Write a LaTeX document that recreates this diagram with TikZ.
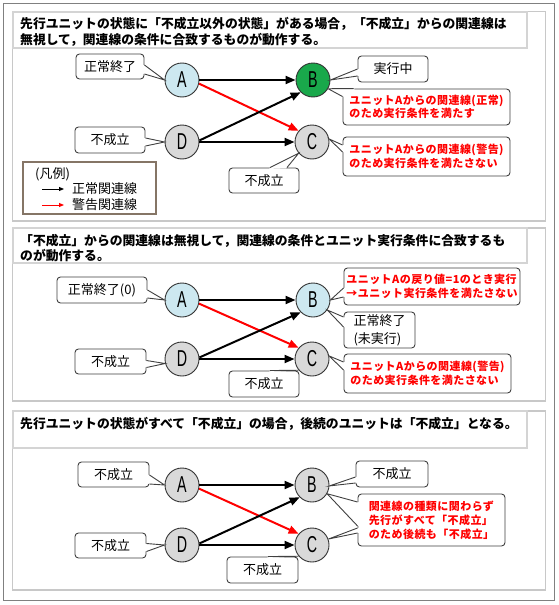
\documentclass[tikz,border=0pt]{standalone}
\usepackage{graphicx}
\usepackage{fontspec}
\setmainfont{Noto Sans CJK JP}
\newfontfamily\labfont{Liberation Sans}
\usetikzlibrary{arrows.meta,calc}
\definecolor{nodeblue}{HTML}{CDE8F0}
\definecolor{nodegray}{HTML}{D9D9D9}
\definecolor{nodegreen}{HTML}{19A84B}
\definecolor{panelgray}{HTML}{C8C8C8}
\definecolor{titlegray}{HTML}{D4D4D4}
\definecolor{framegray}{HTML}{808080}
\definecolor{legendbrown}{HTML}{857566}
\definecolor{alertred}{HTML}{FF0000}
\newcommand\ulab[1]{\scalebox{0.62}[1]{#1}}
\newcommand\callptr[4]{%
  \coordinate (cpa) at (#2);
  \coordinate (cpt) at (#3);
  \coordinate (cpb) at (#4);
  \fill[white] (cpa) -- (cpt) -- (cpb) -- ($(cpb)!1.5pt!(#1.center)$) -- ($(cpa)!1.5pt!(#1.center)$) -- cycle;
  \draw[callline] (cpa) -- (cpt) -- (cpb);
}
\tikzset{
  unit/.style={circle, draw=black!80, line width=0.9pt, minimum size=34pt, inner sep=0pt,
    font=\labfont\fontsize{23}{23}\selectfont},
  arr/.style={line width=2pt, -{Triangle[length=10pt,width=8pt]}},
  redarr/.style={arr, draw=alertred},
  legarr/.style={line width=1pt, -{Triangle[length=5pt,width=4pt]}},
  callbox/.style={draw=black!75, line width=0.9pt, fill=white, rounded corners=3.5pt,
    inner sep=0pt, font=\fontsize{13}{18}\selectfont},
  callline/.style={draw=black!75, line width=0.9pt},
  redtext/.style={text=alertred, align=left, font=\bfseries\fontsize{11}{13.5}\selectfont\addfontfeature{LetterSpace=4}},
  panel/.style={draw=panelgray, line width=1.5pt, fill=white},
  titlebox/.style={draw=titlegray, line width=2pt, fill=white},
  titletext/.style={anchor=west, inner sep=0pt, font=\bfseries\fontsize{12.8}{15}\selectfont},
  legtext/.style={anchor=west, inner sep=0pt, font=\fontsize{13}{15}\selectfont},
}
\begin{document}
\begin{tikzpicture}[x=1pt,y=-1pt]
\useasboundingbox (0,0) rectangle (559,605);
\fill[white] (0,0) rectangle (559,605);
\draw[framegray, line width=1pt] (3,3) rectangle (554,600);

% ================= Panel 1 =================
\draw[panel] (12.5,11.5) rectangle (545.5,221);
\draw[titlebox] (12.5,11.5) rectangle (527,48);
\node[titletext] (t1a) at (20,24) {先行ユニットの状態に「不成立以外の状態」がある場合，「不成立」からの関連線は};
\node[titletext] (t1b) at (20,40) {無視して，関連線の条件に合致するものが動作する。};

\node[unit, fill=nodeblue] (A1) at (182,80) {\ulab{A}};
\node[unit, fill=nodegreen] (B1) at (313,80) {\ulab{B}};
\node[unit, fill=nodegray] (D1) at (182,142) {\ulab{D}};
\node[unit, fill=nodegray] (C1) at (312,142) {\ulab{C}};

\node[callbox, minimum width=68pt, minimum height=25pt] (cA1) at (110,66.5) {正常終了};
\callptr{cA1}{$(cA1.east)+(0,-1.5)$}{A1.west}{$(cA1.east)+(0,7.5)$}
\node[callbox, minimum width=70pt, minimum height=26pt] (cB1) at (393,69) {実行中};
\callptr{cB1}{$(cB1.west)+(0,0)$}{B1.east}{$(cB1.west)+(0,7)$}
\node[callbox, redtext, minimum width=167pt, minimum height=36pt] (cR11) at (426.5,107) {ユニットAからの関連線(正常)\\のため実行条件を満たす};
\callptr{cR11}{$(cR11.north west)+(0,8)$}{B1.-30}{$(cR11.north west)+(11,0)$}
\node[callbox, minimum width=70pt, minimum height=26pt] (cD1) at (110,140) {不成立};
\callptr{cD1}{$(cD1.east)+(0,-2)$}{D1.west}{$(cD1.east)+(0,6)$}
\node[callbox, minimum width=70pt, minimum height=25pt] (cC1) at (264,180.5) {不成立};
\callptr{cC1}{$(cC1.north)+(6,0)$}{C1.220}{$(cC1.north)+(23,0)$}
\node[callbox, redtext, minimum width=167pt, minimum height=39pt] (cR12) at (426.5,156.5) {ユニットAからの関連線(警告)\\のため実行条件を満たさない};
\callptr{cR12}{$(cR12.west)+(0,-11.5)$}{C1.10}{$(cR12.west)+(0,-4.5)$}

\draw[redarr] (A1.-12) -- (C1.140);
\draw[arr] (A1.east) -- (B1.west);
\draw[arr] (D1.east) -- (C1.west);
\draw[arr] (D1.5) -- (B1.225);

% legend
\node[draw=legendbrown, line width=1.5pt, fill=white, minimum width=133pt, minimum height=52pt, inner sep=0pt] (leg) at (89.5,188) {};
\node[legtext] (legt) at (35,174) {(凡例)};
\node[legtext] (leg1) at (72,189) {正常関連線};
\node[legtext] (leg2) at (72,205) {警告関連線};
\coordinate (l1a) at (42,189); \coordinate (l1b) at (64,189);
\coordinate (l2a) at (42,205); \coordinate (l2b) at (64,205);
\draw[legarr] (l1a) -- (l1b);
\draw[legarr, draw=alertred] (l2a) -- (l2b);

% ================= Panel 2 =================
\draw[panel] (12.5,228) rectangle (545.5,401);
\draw[titlebox] (12.5,228) rectangle (527,263);
\node[titletext] (t2a) at (20,241) {「不成立」からの関連線は無視して，関連線の条件とユニット実行条件に合致するも};
\node[titletext] (t2b) at (20,256) {のが動作する。};

\node[unit, fill=nodeblue] (A2) at (182,300) {\ulab{A}};
\node[unit, fill=nodeblue] (B2) at (313,300) {\ulab{B}};
\node[unit, fill=nodegray] (D2) at (182,359) {\ulab{D}};
\node[unit, fill=nodegray] (C2) at (312,359) {\ulab{C}};

\node[callbox, minimum width=90pt, minimum height=26pt] (c2A) at (102,290) {正常終了(0)};
\callptr{c2A}{$(c2A.east)+(0,0)$}{A2.west}{$(c2A.east)+(0,8)$}
\node[callbox, minimum width=71pt, minimum height=25pt] (c2D) at (110.5,361.5) {不成立};
\callptr{c2D}{$(c2D.east)+(0,-1)$}{D2.195}{$(c2D.east)+(0,6)$}
\node[callbox, minimum width=70pt, minimum height=26pt] (c2C) at (264,384) {不成立};
\callptr{c2C}{$(c2C.north)+(6,0)$}{C2.220}{$(c2C.north)+(23,0)$}
\node[callbox, redtext, minimum width=176pt, minimum height=37pt] (c2R1) at (432,286.5) {ユニットAの戻り値=1のとき実行\\→ユニット実行条件を満たさない};
\callptr{c2R1}{$(c2R1.west)+(0,1.5)$}{B2.east}{$(c2R1.west)+(0,10.5)$}
\node[callbox, align=left, minimum width=71pt, minimum height=36pt] (c2B) at (379.5,330) {正常終了\\(未実行)};
\callptr{c2B}{$(c2B.west)+(0,-13)$}{B2.-35}{$(c2B.west)+(0,-3)$}
\node[callbox, redtext, minimum width=167pt, minimum height=39pt] (c2R2) at (427.5,373.5) {ユニットAからの関連線(警告)\\のため実行条件を満たさない};
\callptr{c2R2}{$(c2R2.west)+(0,-11.5)$}{C2.10}{$(c2R2.west)+(0,-3.5)$}

\draw[redarr] (A2.-12) -- (C2.140);
\draw[arr] (A2.east) -- (B2.west);
\draw[arr] (D2.east) -- (C2.west);
\draw[arr] (D2.5) -- (B2.225);

% ================= Panel 3 =================
\draw[panel] (12.5,411) rectangle (545.5,590);
\draw[titlebox] (12.5,411) rectangle (527,448);
\node[titletext] (t3a) at (20,424) {先行ユニットの状態がすべて「不成立」の場合，後続のユニットは「不成立」となる。};

\node[unit, fill=nodegray] (A3) at (182,485) {\ulab{A}};
\node[unit, fill=nodegray] (B3) at (312,485) {\ulab{B}};
\node[unit, fill=nodegray] (D3) at (182,545) {\ulab{D}};
\node[unit, fill=nodegray] (C3) at (312,545) {\ulab{C}};

\node[callbox, minimum width=71pt, minimum height=25pt] (c3A) at (113.5,474.5) {不成立};
\callptr{c3A}{$(c3A.east)+(0,0.5)$}{A3.west}{$(c3A.east)+(0,9.5)$}
\node[callbox, minimum width=72pt, minimum height=26pt] (c3B) at (392,474) {不成立};
\callptr{c3B}{$(c3B.west)+(0,3)$}{B3.-3}{$(c3B.west)+(0,9)$}
\node[callbox, minimum width=71pt, minimum height=25pt] (c3D) at (110.5,545.5) {不成立};
\callptr{c3D}{$(c3D.east)+(0,-2)$}{D3.west}{$(c3D.east)+(0,6)$}
\node[callbox, minimum width=71pt, minimum height=26pt] (c3C) at (262.5,570) {不成立};
\callptr{c3C}{$(c3C.north)+(5.5,0)$}{C3.220}{$(c3C.north)+(22.5,0)$}
\node[callbox, redtext, font=\bfseries\fontsize{11}{14}\selectfont\addfontfeature{LetterSpace=4}, minimum width=147pt, minimum height=52pt] (c3R) at (431.5,520) {関連線の種類に関わらず\\先行がすべて「不成立」\\のため後続も「不成立」};
\callptr{c3R}{$(c3R.west)+(0,-18)$}{B3.-30}{$(c3R.west)+(0,6)$}
\callptr{c3R}{$(c3R.west)+(0,8)$}{C3.20}{$(c3R.west)+(0,13)$}

\draw[redarr] (A3.-12) -- (C3.140);
\draw[arr] (A3.east) -- (B3.west);
\draw[arr] (D3.east) -- (C3.west);
\draw[arr] (D3.5) -- (B3.225);
\end{tikzpicture}
\end{document}
